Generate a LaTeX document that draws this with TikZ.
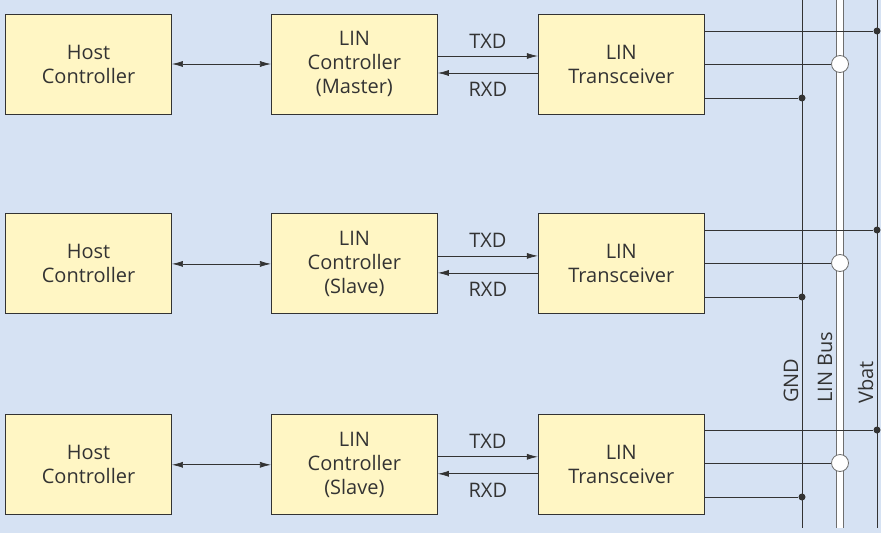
\documentclass[tikz,border=0pt]{standalone}
\usepackage{fontspec}
\setmainfont{Open Sans}
\usetikzlibrary{positioning,arrows.meta}
\definecolor{bgblue}{HTML}{D6E2F3}
\definecolor{boxfill}{HTML}{FFF6C4}
\definecolor{ink}{HTML}{333333}
\definecolor{busgray}{HTML}{6E6E6E}
\tikzset{
  box/.style={draw=ink, fill=boxfill, line width=0.9pt, minimum width=166pt,
    minimum height=100pt, align=center, text=ink, inner sep=0pt,
    font=\fontsize{20}{24}\selectfont},
  sig/.style={draw=ink, line width=0.7pt},
  tip/.style={-{Latex[length=11pt,width=6pt]}},
  dot/.style={circle, fill=ink, inner sep=0pt, minimum size=7pt},
  busdot/.style={circle, draw=busgray, fill=white, line width=0.8pt,
    inner sep=0pt, minimum size=17pt},
  lbl/.style={text=ink, inner sep=0pt, font=\fontsize{20}{24}\selectfont},
}
\begin{document}
\begin{tikzpicture}[x=1pt, y=-1pt]
    \fill[bgblue] (0,0) rectangle (881,533);
    \useasboundingbox (0,0) rectangle (881,533);
    % master row
    \node[box] (host1) at (88.5,64) {Host\\Controller};
    \node[box, right=99pt of host1] (ctrl1) {LIN\\Controller\\(Master)};
    \node[box, right=100pt of ctrl1] (trx1) {LIN\\Transceiver};
    % slave rows
    \node[box, below=99pt of host1] (host2) {Host\\Controller};
    \node[box, right=99pt of host2] (ctrl2) {LIN\\Controller\\(Slave)};
    \node[box, right=100pt of ctrl2] (trx2) {LIN\\Transceiver};
    \node[box, below=100pt of host2] (host3) {Host\\Controller};
    \node[box, right=99pt of host3] (ctrl3) {LIN\\Controller\\(Slave)};
    \node[box, right=100pt of ctrl3] (trx3) {LIN\\Transceiver};
    % bus wires
    \coordinate (gndtop) at (802,0);
    \coordinate (gndbot) at (802,528);
    \coordinate (bustop) at (840,0);
    \coordinate (busbot) at (840,528);
    \coordinate (vbattop) at (877,0);
    \coordinate (vbatbot) at (877,528);
    \draw[sig] (gndtop) -- (gndbot);
    \draw[draw=busgray, line width=0.8pt, double=white, double distance=6pt] (bustop) -- (busbot);
    \draw[sig] (vbattop) -- (vbatbot);
    \node[lbl, rotate=90, anchor=base west] (gndlbl) at (798,403) {GND};
    \node[lbl, rotate=90, anchor=base west] (buslbl) at (832,403) {LIN Bus};
    \node[lbl, rotate=90, anchor=base west] (vbatlbl) at (873,404) {Vbat};
    \foreach \r/\yy in {1/64, 2/263, 3/463}{
        \node[dot] (vb\r) at (877,\yy-33) {};
        \node[busdot] (lb\r) at (840,\yy) {};
        \node[dot] (gd\r) at (802,\yy+34) {};
        \draw[sig] (trx\r.east |- vb\r) -- (vb\r);
        \draw[sig] (trx\r.east |- lb\r) -- (lb\r);
        \draw[sig] (trx\r.east |- gd\r) -- (gd\r);
        \draw[sig, {Latex[length=11pt,width=6pt]}-{Latex[length=11pt,width=6pt]}] (host\r) -- (ctrl\r);
        \draw[sig, tip] ([yshift=8pt]ctrl\r.east) -- ([yshift=8pt]trx\r.west)
            node[lbl, midway, anchor=base, yshift=8pt] (txd\r) {TXD};
        \draw[sig, tip] ([yshift=-9pt]trx\r.west) -- ([yshift=-9pt]ctrl\r.east)
            node[lbl, midway, anchor=north, yshift=-9pt] (rxd\r) {RXD};
    }
\end{tikzpicture}
\end{document}
